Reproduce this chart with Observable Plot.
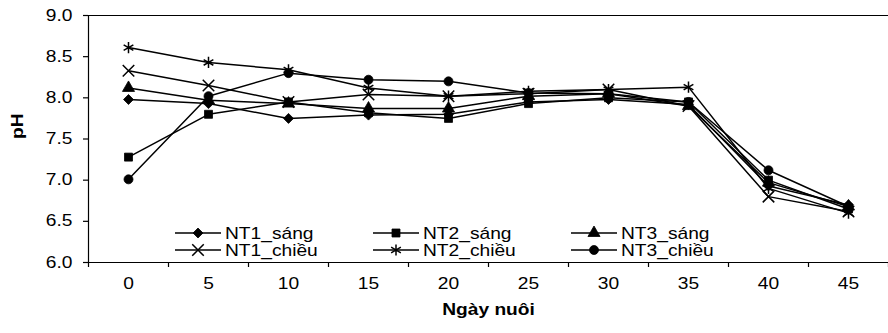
<!DOCTYPE html>
<html>
<head>
<meta charset="utf-8">
<script src="https://cdn.jsdelivr.net/npm/d3@7"></script>
<script src="https://cdn.jsdelivr.net/npm/@observablehq/plot@0.6"></script>
<style>
  body { margin: 0; background: #fff; }
  #chart { width: 888px; height: 333px; }
  #chart svg text { font-family: "Liberation Sans", Arial, sans-serif; }
</style>
</head>
<body>
<div id="chart"></div>
<script>
// Culture days (x categories) and pH readings per treatment
const days = [0, 5, 10, 15, 20, 25, 30, 35, 40, 45];
const seriesNames = ["NT1_sáng", "NT2_sáng", "NT3_sáng", "NT1_chiều", "NT2_chiều", "NT3_chiều"];
const nt1Sang   = [7.98, 7.93, 7.75, 7.79, 7.80, 7.95, 7.98, 7.92, 6.93, 6.70];
const nt2Sang   = [7.28, 7.80, 7.95, 7.82, 7.75, 7.93, 8.00, 7.95, 7.00, 6.65];
const nt3Sang   = [8.12, 7.97, 7.93, 7.87, 7.87, 8.02, 8.05, 7.90, 6.97, 6.68];
const nt1Chieu  = [8.33, 8.15, 7.95, 8.04, 8.02, 8.05, 8.10, 7.90, 6.80, 6.62];
const nt2Chieu  = [8.61, 8.43, 8.34, 8.12, 8.02, 8.08, 8.10, 8.13, 6.90, 6.60];
const nt3Chieu  = [7.01, 8.02, 8.30, 8.22, 8.20, 8.06, 8.05, 7.95, 7.12, 6.68];
const seriesValues = [nt1Sang, nt2Sang, nt3Sang, nt1Chieu, nt2Chieu, nt3Chieu];
const seriesSymbols = ["diamond2", "square", "triangle", "times", "asterisk", "circle"];
const strokeOnlySymbols = ["times", "asterisk"];
const yTicks = [6.0, 6.5, 7.0, 7.5, 8.0, 8.5, 9.0];

// Long-format table for Plot
const rows = seriesNames.flatMap((name, i) =>
  days.map((day, j) => ({day, ph: seriesValues[i][j], series: name, symbol: seriesSymbols[i]}))
);
const filledRows = rows.filter(d => !strokeOnlySymbols.includes(d.symbol));
const strokedRows = rows.filter(d => strokeOnlySymbols.includes(d.symbol));

// Category boundaries for the x tick marks
const step = days[1] - days[0];
const boundaries = [...days.map(d => d - step / 2), days[days.length - 1] + step / 2];

const fontSize = 16;
const textStretch = 1.2;   // glyphs are drawn slightly wide
const markerR = 4.5;

const chart = Plot.plot({
  width: 888,
  height: 333,
  marginLeft: 88,
  marginRight: 0,
  marginTop: 15,
  marginBottom: 71,
  style: {fontFamily: '"Liberation Sans", Arial, sans-serif', fontSize: fontSize + "px", color: "black", background: "white"},
  x: {domain: [boundaries[0], boundaries[boundaries.length - 1]]},
  y: {domain: [yTicks[0], yTicks[yTicks.length - 1]]},
  symbol: {domain: seriesNames, range: seriesSymbols},
  marks: [
    Plot.axisY({ticks: yTicks, tickFormat: d3.format(".1f"), tickSize: 5, tickPadding: 11, label: null, strokeWidth: 1.2, fontSize}),
    Plot.axisX({ticks: boundaries, tickSize: 5, tickFormat: () => "", label: null, strokeWidth: 1.2}),
    Plot.axisX({ticks: days, tickSize: 0, tickPadding: 15, tickFormat: d => String(d), label: null, fontSize}),
    Plot.ruleY([yTicks[0], yTicks[yTicks.length - 1]], {stroke: "black", strokeWidth: 1.2}),
    Plot.ruleX([boundaries[0]], {stroke: "black", strokeWidth: 1.2}),
    Plot.line(rows, {x: "day", y: "ph", z: "series", stroke: "black", strokeWidth: 1.5}),
    Plot.dot(filledRows, {x: "day", y: "ph", symbol: "series", r: markerR, fill: "black", stroke: "black", strokeWidth: 0.8}),
    Plot.dot(strokedRows, {x: "day", y: "ph", symbol: "series", r: markerR + 0.8, fill: "none", stroke: "black", strokeWidth: 1.5}),
    Plot.text(["Ngày nuôi"], {frameAnchor: "bottom", dy: 47, fontWeight: "bold", fontSize, lineAnchor: "middle"}),
    Plot.text(["pH"], {frameAnchor: "left", dx: -71, rotate: -90, fontWeight: "bold", fontSize, lineAnchor: "middle"})
  ]
});

// Legend drawn inside the plot area, two rows of three entries
const symbolTypes = {
  diamond2: d3.symbolDiamond2, square: d3.symbolSquare, triangle: d3.symbolTriangle,
  times: d3.symbolTimes, asterisk: d3.symbolAsterisk, circle: d3.symbolCircle
};
const legendCols = [175, 373, 571];
const legendRows = [233, 250];
const swatchLen = 46;
const legend = d3.select(chart).append("g").attr("class", "legend").attr("text-anchor", "start");
seriesNames.forEach((name, i) => {
  const x = legendCols[i % 3], y = legendRows[Math.floor(i / 3)];
  const sym = seriesSymbols[i];
  const stroked = strokeOnlySymbols.includes(sym);
  const g = legend.append("g").attr("transform", `translate(${x},${y})`);
  g.append("line").attr("x1", 0).attr("x2", swatchLen).attr("stroke", "black").attr("stroke-width", 1.5);
  g.append("path")
    .attr("transform", `translate(${swatchLen / 2},0)`)
    .attr("d", d3.symbol(symbolTypes[sym], Math.PI * (stroked ? (markerR + 0.8) ** 2 : markerR ** 2))())
    .attr("fill", stroked ? "none" : "black")
    .attr("stroke", "black")
    .attr("stroke-width", stroked ? 1.5 : 0.8);
  g.append("text").attr("transform", `translate(${swatchLen + 4},0)`).attr("dy", "0.35em").attr("text-anchor", "start")
    .attr("font-size", fontSize).attr("fill", "black").text(name);
});

// Widen every label along its own baseline, keeping its anchor point fixed.
// Only plain pixel x/y attributes are folded into the transform; em offsets stay as they are.
const isPixel = v => v != null && /^-?[\d.]+$/.test(v);
d3.select(chart).selectAll("text").each(function () {
  const t = d3.select(this);
  const ax = t.attr("x"), ay = t.attr("y");
  const x = isPixel(ax) ? +ax : 0, y = isPixel(ay) ? +ay : 0;
  if (isPixel(ax)) t.attr("x", null);
  if (isPixel(ay)) t.attr("y", null);
  const base = t.attr("transform") || "";
  t.attr("transform", `${base} translate(${x},${y}) scale(${textStretch},1)`);
});

document.getElementById("chart").append(chart);
</script>
</body>
</html>
